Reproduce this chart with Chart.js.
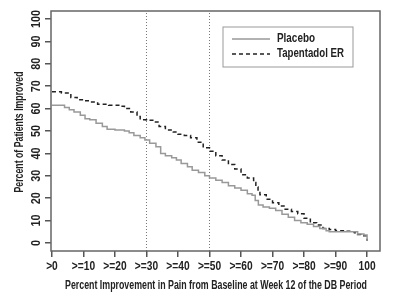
<!DOCTYPE html>
<html lang="en">
<head>
  <meta charset="UTF-8">
  <title>Percent of Patients Improved</title>
  <script src="https://cdn.jsdelivr.net/npm/chart.js"></script>
</head>
<body style="margin:0;background:#fff;">
  <div style="width:400px;height:302px;">
    <canvas id="improvementChart" width="400" height="302"></canvas>
  </div>
  <script>
    // values
    const placeboX = [0, 4, 5.5, 7, 9, 10.5, 12, 14, 16, 17.5, 20, 23, 24.5, 26, 28, 29.5, 31, 33, 34.5, 36, 38, 39.5, 41, 43, 44.5, 46.5, 48.5, 50, 52, 54, 56, 58, 60, 62, 63.5, 64.5, 65.5, 67, 69, 71, 73, 75, 77, 79, 81, 83, 85, 87, 88, 96, 97, 99, 100];
    const placeboY = [61.5, 60.5, 59.5, 58.5, 57, 55.5, 55, 53.5, 52, 50.8, 50.5, 50, 49.2, 48, 47, 46, 44.5, 43, 40, 39, 38, 37, 35.5, 34, 32.5, 31.5, 30, 29, 28, 27, 25.5, 24.5, 23.5, 22, 21.3, 19, 17, 16, 15.5, 14.5, 12.8, 11.5, 10, 9, 8.3, 7.3, 6.5, 5.5, 5, 5, 4, 3.5, 1];

    const tapX = [0, 3, 6, 8, 10, 12, 14.5, 18, 22, 23, 25, 27, 28, 30, 32, 34, 36, 38.5, 40, 42, 44, 46, 48, 50, 52, 54, 56, 58, 60, 62, 64, 64.7, 65.4, 66, 68, 70, 72, 74, 76, 78, 80, 82, 84, 86, 88, 90, 93, 95, 96, 97, 98, 100];
    const tapY = [67.5, 67, 65, 64, 63.5, 63, 62, 61.5, 61, 60, 58.5, 56.5, 55, 54.8, 54, 52, 50.5, 49.5, 48.5, 48, 47, 45, 42.5, 41, 39, 37, 35, 33, 30.5, 29, 27, 25, 23, 21.5, 19.5, 18, 16.5, 15, 14, 13, 11, 9, 8, 6.5, 6, 5.5, 5.2, 5, 4.5, 3.8, 3.2, 1];

    const refLines = [30, 50];
    const xTickValues = [0, 10, 20, 30, 40, 50, 60, 70, 80, 90, 100];
    const xTickLabels = ['>0', '>=10', '>=20', '>=30', '>=40', '>=50', '>=60', '>=70', '>=80', '>=90', '100'];
    const yTickValues = [0, 10, 20, 30, 40, 50, 60, 70, 80, 90, 100];
    const seriesNames = ['Placebo', 'Tapentadol ER'];
    const xTitle = 'Percent Improvement in Pain from Baseline at Week 12 of the DB Period';
    const yTitle = 'Percent of Patients Improved';

    const FONT = 'bold 12px "Liberation Sans", Arial, sans-serif';
    const INK = '#222';

    const toPoints = (xs, ys) => xs.map((x, i) => ({ x: x, y: ys[i] }));

    // dotted reference lines at >=30 and >=50
    const refSets = refLines.map(v => ({
      label: 'ref' + v,
      data: [{ x: v, y: -3.6 }, { x: v, y: 103.6 }],
      borderColor: '#777',
      borderWidth: 1,
      borderDash: [1, 2],
      pointRadius: 0,
      fill: false
    }));

    // squeeze text sideways, the original uses a condensed face
    function squeezed(ctx, text, x, y, sx, rot) {
      ctx.save();
      ctx.translate(x, y);
      if (rot) ctx.rotate(rot);
      ctx.scale(sx, 1);
      ctx.fillText(text, 0, 0);
      ctx.restore();
    }

    // box, tick labels, titles and legend
    const framePlugin = {
      id: 'frame',
      afterDraw(chart) {
        const { ctx, chartArea: a, scales } = chart;
        ctx.save();
        ctx.strokeStyle = '#666';
        ctx.lineWidth = 1.5;
        ctx.strokeRect(a.left, a.top, a.right - a.left, a.bottom - a.top);

        ctx.fillStyle = INK;
        ctx.font = FONT;
        ctx.textAlign = 'center';
        ctx.textBaseline = 'middle';
        yTickValues.forEach(v => {
          squeezed(ctx, String(v), 37, scales.y.getPixelForValue(v), 0.9, -Math.PI / 2);
        });
        xTickValues.forEach((v, i) => {
          squeezed(ctx, xTickLabels[i], scales.x.getPixelForValue(v), 267, 0.85, 0);
        });

        // axis titles
        ctx.fillText(xTitle, 216, 286, 302);
        ctx.save();
        ctx.translate(20, 132);
        ctx.rotate(-Math.PI / 2);
        ctx.fillText(yTitle, 0, 0, 121);
        ctx.restore();

        // legend
        const lx = 223, ly = 27, lw = 130, lh = 40;
        ctx.strokeStyle = '#999';
        ctx.lineWidth = 1;
        ctx.strokeRect(lx, ly, lw, lh);
        const textW = [38, 67];
        [0, 1].forEach(i => {
          const ds = chart.data.datasets[i];
          const yy = ly + 12 + i * 15;
          ctx.beginPath();
          ctx.strokeStyle = ds.borderColor;
          ctx.lineWidth = ds.borderWidth;
          ctx.setLineDash(ds.borderDash || []);
          ctx.moveTo(lx + 9, yy);
          ctx.lineTo(lx + 47, yy);
          ctx.stroke();
          ctx.setLineDash([]);
          ctx.fillStyle = INK;
          ctx.textAlign = 'left';
          ctx.fillText(seriesNames[i], lx + 54, yy, textW[i]);
        });
        ctx.restore();
      }
    };

    new Chart(document.getElementById('improvementChart'), {
      type: 'line',
      data: {
        datasets: [
          {
            label: seriesNames[0],
            data: toPoints(placeboX, placeboY),
            borderColor: '#999',
            borderWidth: 1.5,
            pointRadius: 0,
            stepped: true,
            fill: false
          },
          {
            label: seriesNames[1],
            data: toPoints(tapX, tapY),
            borderColor: '#222',
            borderWidth: 1.5,
            borderDash: [4, 3],
            pointRadius: 0,
            stepped: true,
            fill: false
          }
        ].concat(refSets)
      },
      options: {
        responsive: false,
        animation: false,
        layout: { padding: { top: 11, right: 20, left: 0, bottom: 0 } },
        plugins: { legend: { display: false }, tooltip: { enabled: false } },
        scales: {
          x: {
            type: 'linear',
            min: -0.3,
            max: 104.1,
            afterBuildTicks: s => { s.ticks = xTickValues.map(v => ({ value: v })); },
            afterFit: s => { s.height = 51; },
            ticks: { display: false },
            grid: { drawOnChartArea: false, drawTicks: true, tickLength: 6, color: '#555', lineWidth: 1.5 },
            border: { display: false }
          },
          y: {
            type: 'linear',
            min: -3.6,
            max: 103.6,
            afterBuildTicks: s => { s.ticks = yTickValues.map(v => ({ value: v })); },
            afterFit: s => { s.width = 51; },
            ticks: { display: false },
            grid: { drawOnChartArea: false, drawTicks: true, tickLength: 6, color: '#555', lineWidth: 1.5 },
            border: { display: false }
          }
        }
      },
      plugins: [framePlugin]
    });
  </script>
</body>
</html>
